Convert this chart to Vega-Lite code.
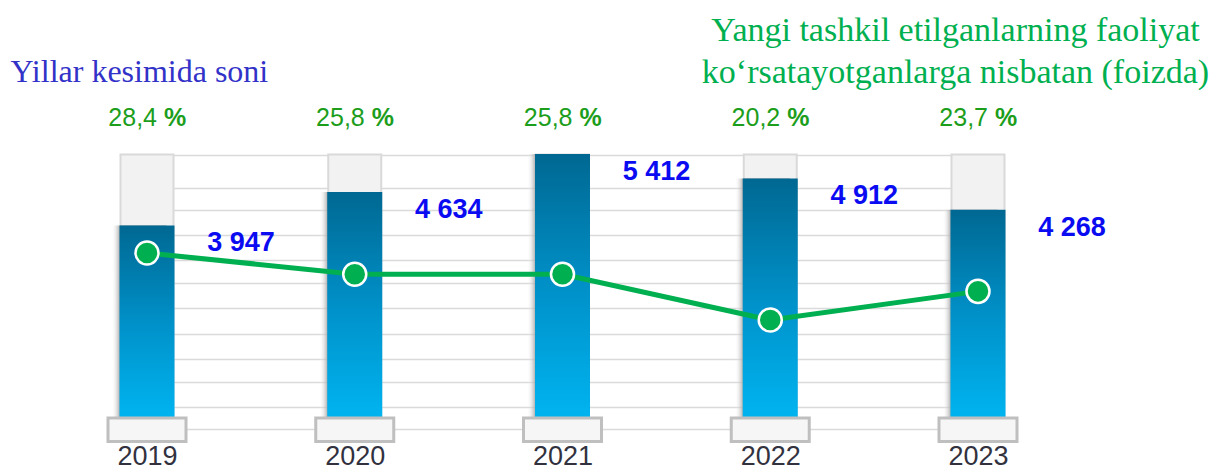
{
  "$schema": "https://vega.github.io/schema/vega-lite/v6.json",
  "width": 1072,
  "height": 469,
  "autosize": {"type": "none"},
  "padding": {"left": 56, "right": 97, "top": 0, "bottom": 0},
  "background": "white",
  "config": {
    "view": {"stroke": null},
    "font": "Liberation Sans",
    "locale": {
      "number": {"decimal": ",", "thousands": " ", "grouping": [3], "currency": ["", ""]}
    }
  },
  "data": {
    "values": [
      {"year": "2019", "count": 3947, "pct": 28.4},
      {"year": "2020", "count": 4634, "pct": 25.8},
      {"year": "2021", "count": 5412, "pct": 25.8},
      {"year": "2022", "count": 4912, "pct": 20.2},
      {"year": "2023", "count": 4268, "pct": 23.7}
    ]
  },
  "encoding": {
    "x": {
      "field": "year",
      "type": "ordinal",
      "scale": {"type": "point", "range": [91, 922], "padding": 0},
      "axis": {
        "title": null,
        "orient": "bottom",
        "offset": -5,
        "domain": false,
        "ticks": false,
        "tickSize": 0,
        "grid": false,
        "labelPadding": 0,
        "labelAngle": 0,
        "labelBaseline": "alphabetic",
        "labelFont": "Liberation Sans",
        "labelFontSize": 27,
        "labelColor": "#32323f"
      }
    }
  },
  "layer": [
    {
      "layer": [
        {
          "mark": {"type": "bar", "fill": "#F2F2F2", "stroke": "#D9D9D9", "strokeWidth": 2, "size": 53},
          "encoding": {
            "y": {
              "datum": 5400,
              "type": "quantitative",
              "scale": {"domain": [-1045, 8569], "nice": false, "zero": false},
              "axis": {
                "orient": "left",
                "title": "Yillar kesimida soni",
                "titleAngle": 0,
                "titleX": -46,
                "titleY": 81,
                "titleAlign": "left",
                "titleBaseline": "alphabetic",
                "titleFont": "Liberation Serif",
                "titleFontSize": 32,
                "titleFontWeight": "normal",
                "titleColor": "#3232C8",
                "labels": false,
                "ticks": false,
                "domain": false,
                "grid": true,
                "gridColor": "#DADADA",
                "gridWidth": 1.5,
                "values": [5535, 5391, 5022, 4715, 4510, 4264, 3997, 3751, 3485, 3239, 2972, 2767, 2480, 2255, 1968, 1722, 1455, 1209, 963, 738, 451, 225, 0, -225]
              }
            },
            "y2": {"datum": 0}
          }
        },
        {
          "mark": {
            "type": "bar",
            "size": 55,
            "xOffset": -8,
            "fill": {
              "gradient": "linear",
              "x1": 0, "y1": 0, "x2": 1, "y2": 0,
              "stops": [
                {"offset": 0, "color": "rgba(255,255,255,0)"},
                {"offset": 0.18, "color": "#8f8f8f"}
              ]
            }
          },
          "encoding": {
            "y": {"field": "count", "type": "quantitative"},
            "y2": {"datum": 0}
          }
        },
        {
          "mark": {
            "type": "bar",
            "size": 55,
            "fill": {
              "gradient": "linear",
              "x1": 0, "y1": 0, "x2": 0, "y2": 1,
              "stops": [
                {"offset": 0, "color": "#006892"},
                {"offset": 0.5, "color": "#0090C8"},
                {"offset": 1, "color": "#00B4F0"}
              ]
            }
          },
          "encoding": {
            "y": {"field": "count", "type": "quantitative"},
            "y2": {"datum": 0}
          }
        },
        {
          "mark": {"type": "bar", "size": 78, "fill": "#F6F6F6", "stroke": "#BFBFBF", "strokeWidth": 3},
          "encoding": {
            "y": {"datum": 0, "type": "quantitative"},
            "y2": {"datum": -480}
          }
        },
        {
          "mark": {
            "type": "text",
            "font": "Liberation Sans",
            "fontSize": 27,
            "fontWeight": "bold",
            "color": "#0B0BF2",
            "align": "center",
            "baseline": "middle",
            "dx": 94,
            "dy": 18
          },
          "encoding": {
            "y": {"field": "count", "type": "quantitative"},
            "text": {"field": "count", "type": "quantitative", "format": ",d"}
          }
        },
        {
          "mark": {
            "type": "text",
            "font": "Liberation Sans",
            "fontSize": 25,
            "color": "#1C9E1C",
            "align": "right",
            "baseline": "middle",
            "dx": 10
          },
          "encoding": {
            "y": {"datum": 6150, "type": "quantitative"},
            "text": {"field": "pct", "type": "quantitative", "format": ".1f"}
          }
        },
        {
          "mark": {
            "type": "text",
            "font": "Liberation Sans",
            "fontSize": 25,
            "fontWeight": "bold",
            "color": "#1C9E1C",
            "align": "left",
            "baseline": "middle",
            "dx": 17,
            "text": "%"
          },
          "encoding": {
            "y": {"datum": 6150, "type": "quantitative"}
          }
        }
      ]
    },
    {
      "layer": [
        {
          "mark": {"type": "line", "color": "#00B050", "strokeWidth": 5},
          "encoding": {
            "y": {
              "field": "pct",
              "type": "quantitative",
              "scale": {"domain": [1.96, 59.36], "nice": false, "zero": false},
              "axis": {
                "orient": "right",
                "title": ["Yangi tashkil etilganlarning faoliyat", "ko‘rsatayotganlarga nisbatan (foizda)"],
                "titleAngle": 0,
                "titleX": -173,
                "titleY": 40,
                "titleAlign": "center",
                "titleBaseline": "alphabetic",
                "titleLineHeight": 42,
                "titleFont": "Liberation Serif",
                "titleFontSize": 34,
                "titleFontWeight": "normal",
                "titleColor": "#00B050",
                "labels": false,
                "ticks": false,
                "domain": false,
                "grid": false
              }
            }
          }
        },
        {
          "mark": {"type": "point", "shape": "circle", "filled": true, "size": 530, "fill": "#00B050", "stroke": "white", "strokeWidth": 2.5, "opacity": 1},
          "encoding": {
            "y": {"field": "pct", "type": "quantitative"}
          }
        }
      ]
    }
  ],
  "resolve": {"scale": {"y": "independent"}}
}
